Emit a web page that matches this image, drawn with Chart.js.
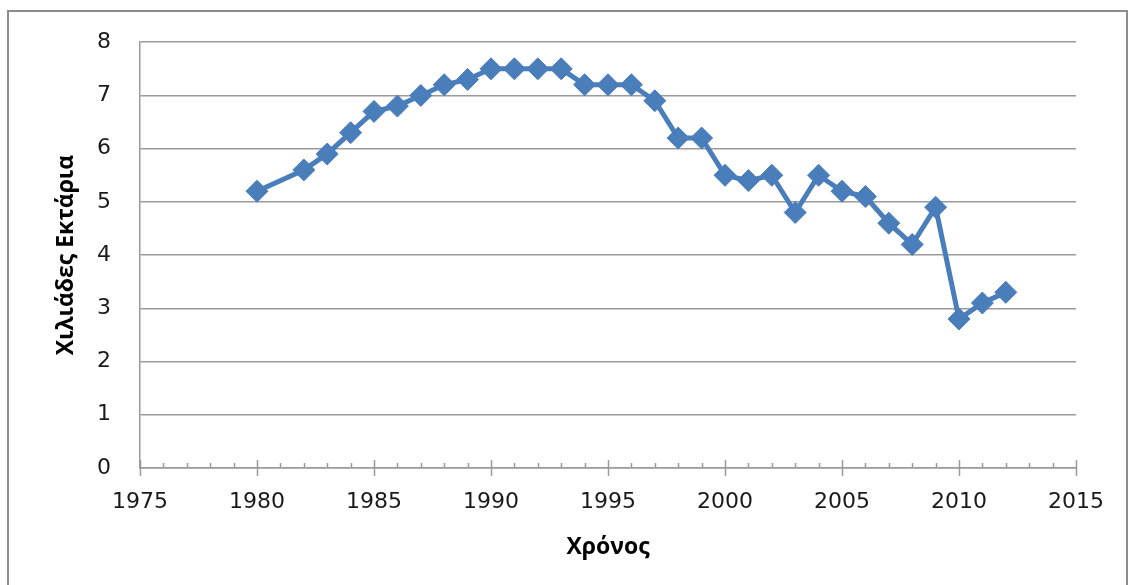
<!DOCTYPE html>
<html>
<head>
<meta charset="utf-8">
<script src="https://cdn.jsdelivr.net/npm/chart.js@4"></script>
<style>
    html, body { margin: 0; padding: 0; background: #fff; }
    #wrap { width: 1130px; height: 585px; position: relative; }
</style>
</head>
<body>
<div id="wrap"><canvas id="areaChart"></canvas></div>
<script>
// Έκταση σε χιλιάδες εκτάρια ανά έτος
const years = [1980, 1982, 1983, 1984, 1985, 1986, 1987, 1988, 1989, 1990, 1991, 1992, 1993, 1994, 1995, 1996,
    1997, 1998, 1999, 2000, 2001, 2002, 2003, 2004, 2005, 2006, 2007, 2008, 2009, 2010, 2011, 2012];
const hectares = [5.2, 5.6, 5.9, 6.3, 6.7, 6.8, 7.0, 7.2, 7.3, 7.5, 7.5, 7.5, 7.5, 7.2, 7.2, 7.2,
    6.9, 6.2, 6.2, 5.5, 5.4, 5.5, 4.8, 5.5, 5.2, 5.1, 4.6, 4.2, 4.9, 2.8, 3.1, 3.3];
const xMin = 1975, xMax = 2015, xStep = 5;
const yMin = 0, yMax = 8;
const yTitle = "Χιλιάδες Εκτάρια";
const xTitle = "Χρόνος";

const lineColor = "#4a7ebb";
const axisColor = "#9a9a9a";
const tickFont = "'DejaVu Sans', sans-serif";
const titleFont = "'Open Sans', sans-serif";

// outer frame around the whole chart
const framePlugin = {
    id: "frame",
    beforeDraw(chart) {
        const ctx = chart.ctx;
        ctx.save();
        ctx.strokeStyle = "#8c8c8c";
        ctx.lineWidth = 2;
        ctx.strokeRect(8, 11, 1119, 600);
        ctx.restore();
    }
};

// major ticks cross the x axis, minor ticks sit inside the plot
const yearTicksPlugin = {
    id: "yearTicks",
    afterDraw(chart) {
        const x = chart.scales.x;
        const y0 = chart.scales.y.getPixelForValue(yMin);
        const ctx = chart.ctx;
        ctx.save();
        ctx.strokeStyle = axisColor;
        ctx.lineWidth = 1.5;
        for (let yr = xMin; yr <= xMax; yr++) {
            const px = Math.round(x.getPixelForValue(yr)) + 0.5;
            const major = (yr - xMin) % xStep === 0;
            ctx.beginPath();
            ctx.moveTo(px, y0 - (major ? 8 : 5));
            ctx.lineTo(px, y0 + (major ? 8 : 0));
            ctx.stroke();
        }
        ctx.restore();
    }
};

const points = years.map((yr, i) => ({ x: yr, y: hectares[i] }));

new Chart(document.getElementById("areaChart"), {
    type: "scatter",
    data: {
        datasets: [{
            data: points,
            showLine: true,
            borderColor: lineColor,
            backgroundColor: lineColor,
            borderWidth: 5,
            pointStyle: "rectRot",
            pointRadius: 11,
            pointBorderWidth: 1,
            pointBorderColor: lineColor,
            pointBackgroundColor: lineColor
        }]
    },
    options: {
        responsive: true,
        maintainAspectRatio: false,
        animation: false,
        layout: { padding: { left: 0, top: 41, right: 54, bottom: 0 } },
        plugins: {
            legend: { display: false },
            tooltip: { enabled: false }
        },
        scales: {
            x: {
                type: "linear",
                min: xMin,
                max: xMax,
                afterFit: s => { s.height = 117; },
                grid: { display: false, drawTicks: false },
                border: { display: true, color: axisColor, width: 1.5 },
                ticks: {
                    stepSize: xStep,
                    padding: 21,
                    color: "#1a1a1a",
                    maxRotation: 0,
                    font: { family: tickFont, size: 22 },
                    callback: v => String(v)
                },
                title: {
                    display: true,
                    text: xTitle,
                    color: "#000",
                    padding: { top: 0, bottom: 24 },
                    font: { family: titleFont, size: 23, weight: "bold" }
                }
            },
            y: {
                min: yMin,
                max: yMax,
                afterFit: s => { s.width = 140; },
                grid: { color: axisColor, lineWidth: 1.5, drawTicks: false },
                border: { display: true, color: axisColor, width: 1.5 },
                ticks: {
                    stepSize: 1,
                    padding: 29,
                    color: "#1a1a1a",
                    font: { family: tickFont, size: 22 }
                },
                title: {
                    display: true,
                    text: yTitle,
                    color: "#000",
                    padding: { top: 53, bottom: 0 },
                    font: { family: titleFont, size: 23, weight: "bold" }
                }
            }
        }
    },
    plugins: [framePlugin, yearTicksPlugin]
});
</script>
</body>
</html>
